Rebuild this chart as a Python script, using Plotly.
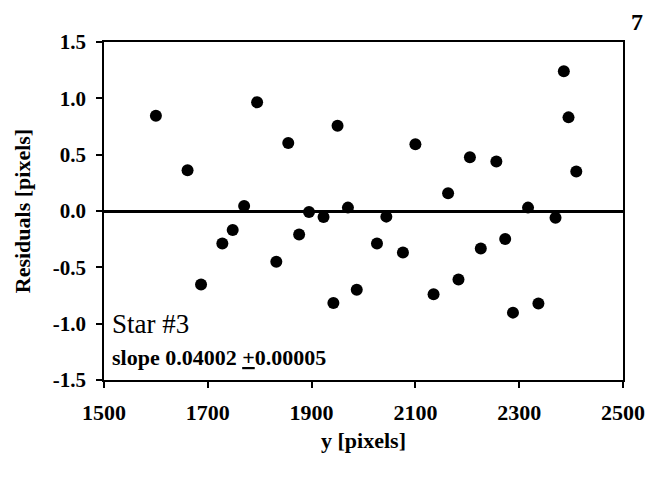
import plotly.graph_objects as go

# Data
y_pixels = [1600, 1661, 1687, 1728, 1748, 1770, 1795, 1832, 1855, 1876, 1895, 1923,
            1942, 1950, 1970, 1987, 2026, 2044, 2076, 2100, 2135, 2163, 2183, 2205,
            2226, 2256, 2273, 2288, 2317, 2337, 2370, 2386, 2395, 2410]
residuals = [0.846, 0.362, -0.653, -0.288, -0.169, 0.045, 0.965, -0.451, 0.603, -0.208,
             -0.009, -0.053, -0.817, 0.757, 0.03, -0.698, -0.288, -0.05, -0.368, 0.593,
             -0.739, 0.157, -0.608, 0.478, -0.332, 0.439, -0.249, -0.902, 0.03, -0.822,
             -0.059, 1.24, 0.831, 0.35]

x_tickvals = [1500, 1700, 1900, 2100, 2300, 2500]
x_ticktext = ["1500", "1700", "1900", "2100", "2300", "2500"]
y_tickvals = [-1.5, -1.0, -0.5, 0.0, 0.5, 1.0, 1.5]
y_ticktext = ["-1.5", "-1.0", "-0.5", "0.0", "0.5", "1.0", "1.5"]

FONT = "Liberation Serif"

fig = go.Figure()
fig.add_trace(go.Scatter(
    x=y_pixels, y=residuals, mode="markers",
    marker=dict(color="black", size=12, line=dict(width=0)),
    showlegend=False, hoverinfo="skip"))

# The page body adds an 8px offset, so the figure is sized 646x476
fig.update_layout(
    width=646, height=476,
    margin=dict(l=96, r=31, t=34, b=104),
    paper_bgcolor="white", plot_bgcolor="white",
    font=dict(family=FONT, color="black"),
    xaxis=dict(
        range=[1500, 2500], tickvals=x_tickvals, ticktext=x_ticktext,
        showgrid=False, zeroline=False, automargin=False,
        showline=True, linecolor="black", linewidth=1.5, mirror=True,
        ticks="outside", ticklen=6, tickwidth=1.5, tickcolor="black",
        ticklabelstandoff=6,
        tickfont=dict(family=FONT, size=22, color="black", weight="bold"),
        title=dict(text="<b>y [pixels]</b>", font=dict(family=FONT, size=22), standoff=8),
    ),
    yaxis=dict(
        range=[-1.5, 1.5], tickvals=y_tickvals, ticktext=y_ticktext,
        showgrid=False, zeroline=True, zerolinecolor="black", zerolinewidth=3,
        showline=True, linecolor="black", linewidth=1.5, mirror=True, automargin=False,
        ticks="outside", ticklen=6, tickwidth=1.5, tickcolor="black",
        ticklabelstandoff=6,
        tickfont=dict(family=FONT, size=21, color="black", weight="bold"),
        title=dict(text="<b>Residuals [pixels]</b>", font=dict(family=FONT, size=22), standoff=16),
    ),
    annotations=[
        dict(x=1512, y=-1.0, xref="x", yref="y", text="Star #3", showarrow=False,
             xanchor="left", yanchor="middle", font=dict(family=FONT, size=27, color="black")),
        dict(x=1512, y=-1.3, xref="x", yref="y",
             text="<b>slope 0.04002 <u>+</u>0.00005</b>", showarrow=False,
             xanchor="left", yanchor="middle", font=dict(family=FONT, size=22, color="black")),
        dict(x=1.027, y=1.06, xref="paper", yref="paper", text="<b>7</b>", showarrow=False,
             xanchor="center", yanchor="middle", font=dict(family=FONT, size=24, color="black")),
    ],
)

fig.write_html("out.html")
